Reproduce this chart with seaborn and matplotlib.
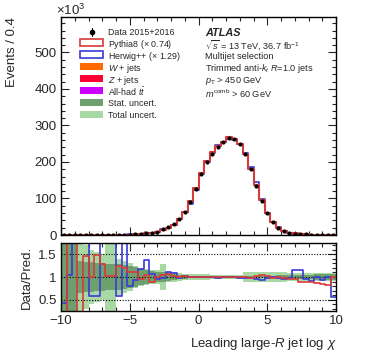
import numpy as np
import pandas as pd
import matplotlib
matplotlib.use("Agg")
import matplotlib.pyplot as plt
import seaborn as sns
from matplotlib.patches import Rectangle
from matplotlib.ticker import MultipleLocator

# binning: 50 bins of 0.4 from -10 to 10
edges = np.linspace(-10, 10, 51)
centers = 0.5 * (edges[:-1] + edges[1:])

# events in units of 10^3
data = [0.002, 0.002, 0.003, 0.004, 0.006, 0.01, 0.02, 0.04, 0.08, 0.15,
        0.3, 0.6, 1.1, 2.0, 3.0, 4.5, 6.3, 9.0, 15.5, 22,
        29, 43, 64, 91, 127, 168, 201, 223, 241, 254,
        265, 263, 250, 221, 181, 134, 94, 59, 36, 20,
        11, 6.3, 4.0, 2.5, 1.5, 0.9, 0.5, 0.3, 0.2, 0.1]
pythia = [0.002, 0.002, 0.003, 0.004, 0.005, 0.01, 0.015, 0.035, 0.08, 0.14,
          0.25, 0.45, 0.95, 1.8, 3.1, 4.3, 6.8, 9.0, 14.8, 20.5,
          28.5, 43, 64, 94, 130, 170, 203, 226, 243, 256,
          269, 263, 249, 222, 182, 137, 95, 60, 36.5, 20.2,
          11.3, 6.6, 4.2, 2.8, 1.7, 1.0, 0.57, 0.35, 0.24, 0.1]
herwig = [0.005, 0.002, 0.002, 0.002, 0.004, 0.017, 0.01, 0.02, 0.04, 0.25,
          0.16, 0.46, 1.4, 2.2, 2.5, 3.3, 5.9, 9.5, 16, 19.6,
          27, 44, 62, 86, 123, 166, 201, 225, 246, 256,
          263, 259, 249, 224, 187, 146, 99, 60, 36, 20.6,
          11.6, 6.5, 3.4, 2.2, 1.55, 0.98, 0.5, 0.32, 0.2, 0.18]
wjets = [0] * 22 + [0.05, 0.1, 0.15, 0.2, 0.3, 0.35, 0.4, 0.45, 0.45, 0.4,
                    0.35, 0.3, 0.25, 0.2, 0.15, 0.1, 0.05, 0.02] + [0] * 10
zjets = [0] * 24 + [0.02, 0.05, 0.07, 0.1, 0.12, 0.15, 0.15, 0.15, 0.12, 0.1,
                    0.07, 0.05, 0.02] + [0] * 13
ttbar = [0] * 24 + [0.02, 0.05, 0.08, 0.12, 0.15, 0.2, 0.25, 0.3, 0.3, 0.28,
                    0.25, 0.2, 0.15, 0.1, 0.05] + [0] * 11

# data / prediction
ratio_pythia = [0.1, 2.0, 2.0, 0.1, 1.47, 1.0, 1.48, 1.28, 1.03, 1.03,
                1.25, 1.2, 1.1, 1.1, 0.95, 1.05, 0.9, 1.0, 1.05, 1.07,
                1.03, 1.0, 1.02, 1.0, 1.0, 1.01, 1.0, 0.99, 1.0, 0.99,
                0.99, 1.0, 1.0, 0.99, 0.98, 1.03, 1.05, 1.02, 0.98, 1.0,
                0.98, 0.96, 0.95, 0.9, 0.88, 0.88, 0.87, 0.85, 0.82, 1.0]
ratio_herwig = [0.42, 1.05, 1.9, 1.9, 1.9, 0.57, 0.57, 1.9, 1.9, 1.9,
                0.57, 1.9, 0.8, 0.93, 1.18, 1.37, 1.07, 0.95, 0.97, 1.12,
                1.08, 0.98, 1.03, 1.0, 1.01, 1.0, 0.99, 1.0, 0.98, 1.01,
                1.0, 0.99, 0.98, 0.98, 0.97, 0.96, 0.93, 0.98, 1.0, 0.97,
                0.95, 0.97, 1.16, 1.16, 0.96, 0.92, 1.0, 0.93, 1.0, 0.55]
stat_unc = [1.0, 1.0, 1.0, 0.35, 0.33, 0.33, 0.3, 0.3, 0.28, 0.28,
            0.28, 0.26, 0.25, 0.22, 0.18, 0.15, 0.14, 0.12, 0.1, 0.08,
            0.06, 0.05, 0.04, 0.03, 0.03, 0.03, 0.03, 0.025, 0.025, 0.025,
            0.025, 0.025, 0.025, 0.025, 0.03, 0.03, 0.03, 0.03, 0.03, 0.035,
            0.04, 0.05, 0.05, 0.05, 0.05, 0.05, 0.06, 0.06, 0.06, 0.06]
total_unc = [1.0, 1.0, 1.0, 0.75, 0.7, 0.6, 0.55, 0.5, 0.75, 0.75,
             0.4, 0.35, 0.3, 0.25, 0.2, 0.18, 0.15, 0.15, 0.28, 0.12,
             0.1, 0.08, 0.06, 0.06, 0.06, 0.06, 0.06, 0.05, 0.05, 0.05,
             0.05, 0.05, 0.05, 0.1, 0.1, 0.1, 0.1, 0.1, 0.1, 0.1,
             0.1, 0.08, 0.08, 0.08, 0.08, 0.08, 0.08, 0.08, 0.08, 0.08]

legend_labels = ["Data 2015+2016", "Pythia8 ($\\times$ 0.74)", "Herwig++ ($\\times$ 1.29)",
                 "$W$ + jets", "$Z$ + jets", "All-had $t\\bar{t}$",
                 "Stat. uncert.", "Total uncert."]

df = pd.DataFrame({"x": centers, "data": data, "pythia": pythia, "herwig": herwig,
                   "wjets": wjets, "zjets": zjets, "ttbar": ttbar,
                   "r_py": ratio_pythia, "r_hw": ratio_herwig,
                   "stat": stat_unc, "tot": total_unc})

RED = "#d83a3a"
BLUE = "#3a3ad8"
C_W = "#ff6a00"
C_Z = "#ff0033"
C_TT = "#cc00ff"
C_STAT = "#6e9f6e"
C_TOT = "#a8d8a4"

sns.set_style("ticks")
plt.rcParams["font.family"] = ["Liberation Sans", "DejaVu Sans"]
plt.rcParams["mathtext.fontset"] = "custom"
plt.rcParams["mathtext.rm"] = "Liberation Sans"
plt.rcParams["mathtext.it"] = "Liberation Sans:italic"
plt.rcParams["mathtext.bf"] = "Liberation Sans:bold"

fig = plt.figure(figsize=(3.74, 3.59), dpi=100)
ax = fig.add_axes([61/374, 1-235/359, 275/374, 218/359])
axr = fig.add_axes([61/374, 1-311/359, 275/374, 68/359])

hkw = dict(binwidth=0.4, binrange=(-10, 10), element="step", fill=False)

# small backgrounds, stacked at the bottom
stack = df[["wjets", "zjets", "ttbar"]].cumsum(axis=1)
for col, c in [("ttbar", C_TT), ("zjets", C_Z), ("wjets", C_W)]:
    ax.stairs(stack[col].values, edges, fill=True, color=c, lw=0)

sns.histplot(data=df, x="x", weights="herwig", color=BLUE, lw=1.2, ax=ax, **hkw)
sns.histplot(data=df, x="x", weights="pythia", color=RED, lw=1.5, ax=ax, **hkw)
sns.scatterplot(data=df, x="x", y="data", color="black", s=9, linewidth=0,
                ax=ax, zorder=5)

ax.set_xlim(-10, 10)
ax.set_ylim(0, 597)
ax.set_xlabel("")
ax.set_ylabel("Events / 0.4", loc="top", fontsize=9.5, labelpad=12)
ax.yaxis.set_major_locator(MultipleLocator(100))
ax.yaxis.set_minor_locator(MultipleLocator(20))
ax.xaxis.set_major_locator(MultipleLocator(5))
ax.xaxis.set_minor_locator(MultipleLocator(1))
ax.tick_params(labelbottom=False)

fig.text(56/374, 1-15/359, r"$\times$10$^{3}$", fontsize=9.5, ha="left", va="baseline")


# legend drawn row by row (pixel positions of the reference)
def ax_x(px):
    return (px - 61) / 275


def ax_y(py):
    return (235 - py) / 218


rows_py = [31.7, 42.9, 54.6, 66.6, 78.4, 90.8, 102.4, 114.5]
box_x0, box_x1, box_h = 80, 103, 7
styles = [None, ("white", RED), ("white", BLUE), (C_W, C_W), (C_Z, C_Z),
          (C_TT, C_TT), (C_STAT, C_STAT), (C_TOT, C_TOT)]
for py, lab, st in zip(rows_py, legend_labels, styles):
    if st is None:
        ax.plot([ax_x(91.5)], [ax_y(py)], "o", color="k", ms=3,
                transform=ax.transAxes, clip_on=False)
        ax.plot([ax_x(91.5)] * 2, [ax_y(py - 4), ax_y(py + 4)], color="k",
                lw=0.8, transform=ax.transAxes, clip_on=False)
    else:
        fc, ec = st
        ax.add_patch(Rectangle((ax_x(box_x0), ax_y(py + box_h / 2)),
                               ax_x(box_x1) - ax_x(box_x0), box_h / 218,
                               facecolor=fc, edgecolor=ec, lw=1.2 if fc == "white" else 0,
                               transform=ax.transAxes, clip_on=False))
    ax.text(ax_x(108), ax_y(py), lab, transform=ax.transAxes, fontsize=6.4,
            va="center_baseline", ha="left")

# ATLAS label block
tx = ax_x(205)
ax.text(tx, ax_y(32), "ATLAS", transform=ax.transAxes, fontsize=7.8,
        fontweight="bold", style="italic", va="center_baseline")
info = [r"$\sqrt{s}$ = 13 TeV, 36.7 fb$^{-1}$",
        "Multijet selection",
        r"Trimmed anti-$k_{t}$ $R$=1.0 jets",
        r"$p_{\mathrm{T}}$ > 450 GeV",
        r"$m^{\mathrm{comb}}$ > 60 GeV"]
info_py = [43.5, 55.5, 66.8, 79, 92.3]
for t, py in zip(info, info_py):
    ax.text(tx, ax_y(py), t, transform=ax.transAxes, fontsize=6.6,
            va="center_baseline")

# ratio panel
xs = np.repeat(edges, 2)[1:-1]
tot_lo = np.repeat(1 - df["tot"].values, 2)
tot_hi = np.repeat(1 + df["tot"].values, 2)
st_lo = np.repeat(1 - df["stat"].values, 2)
st_hi = np.repeat(1 + df["stat"].values, 2)
axr.fill_between(xs, tot_lo, tot_hi, color=C_TOT, lw=0)
axr.fill_between(xs, st_lo, st_hi, color=C_STAT, lw=0)
for yv in [0.5, 1.0, 1.5]:
    axr.axhline(yv, color="black", ls=(0, (1, 1.5)), lw=0.8)
sns.histplot(data=df, x="x", weights="r_hw", color=BLUE, lw=1.2, ax=axr, **hkw)
sns.histplot(data=df, x="x", weights="r_py", color=RED, lw=1.2, ax=axr, **hkw)
axr.set_xlim(-10, 10)
axr.set_ylim(0.25, 1.75)
axr.set_yticks([0.5, 1.0, 1.5])
axr.set_yticklabels(["0.5", "1", "1.5"])
axr.yaxis.set_minor_locator(MultipleLocator(0.1))
axr.xaxis.set_major_locator(MultipleLocator(5))
axr.xaxis.set_minor_locator(MultipleLocator(1))
axr.set_ylabel("Data/Pred.", fontsize=9.5, labelpad=4)
axr.set_xlabel(r"Leading large-$R$ jet log $\chi$", loc="right", fontsize=9.5,
               labelpad=6)

for a in (ax, axr):
    a.tick_params(which="both", direction="in", top=True, right=True,
                  labelsize=9.5, width=0.8, pad=3)
    a.tick_params(which="major", length=6)
    a.tick_params(which="minor", length=3)
    for s in a.spines.values():
        s.set_linewidth(1.0)
        s.set_color("black")

fig.savefig("out.png", dpi=100)
